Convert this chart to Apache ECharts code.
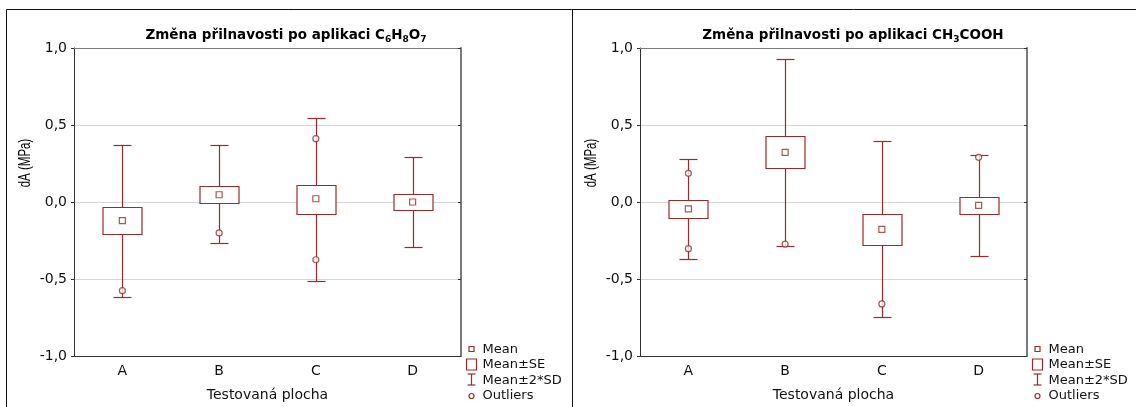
<!DOCTYPE html>
<html>
<head>
<meta charset="utf-8">
<script src="https://cdn.jsdelivr.net/npm/echarts@6/dist/echarts.min.js"></script>
<style>
  html, body { margin: 0; padding: 0; background: #fff; }
  #chart { width: 1136px; height: 407px; }
</style>
</head>
<body>
<div id="chart"></div>
<script>
// Tested surfaces
const categories = ['A', 'B', 'C', 'D'];
const yTicks = [-1, -0.5, 0, 0.5, 1];

// Change in adhesion after citric acid (C6H8O7), MPa
const citMean   = [-0.121, 0.047, 0.021, 0.000];
const citSeLow  = [-0.210, -0.005, -0.078, -0.055];
const citSeHigh = [-0.032, 0.106, 0.112, 0.052];
const citSdLow  = [-0.617, -0.266, -0.511, -0.295];
const citSdHigh = [0.368, 0.368, 0.547, 0.290];
const citOutliers = [['A', -0.576], ['B', -0.201], ['C', 0.411], ['C', -0.375]];

// Change in adhesion after acetic acid (CH3COOH), MPa
const aceMean   = [-0.044, 0.322, -0.178, -0.022];
const aceSeLow  = [-0.104, 0.218, -0.277, -0.080];
const aceSeHigh = [0.010, 0.426, -0.078, 0.034];
const aceSdLow  = [-0.373, -0.284, -0.749, -0.351];
const aceSdHigh = [0.279, 0.931, 0.396, 0.307];
const aceOutliers = [['A', 0.186], ['A', -0.303], ['B', -0.273], ['C', -0.662], ['D', 0.290]];

const RED = '#9a2b2b';
const FONT = 'DejaVu Sans';
const PLOT_W = 387, PLOT_TOP = 48, PLOT_H = 308;
const panels = [
  { left: 74,  title: '{b|Změna přilnavosti po aplikaci C}{s|6}{b|H}{s|8}{b|O}{s|7}', cx: 286 },
  { left: 640, title: '{b|Změna přilnavosti po aplikaci CH}{s|3}{b|COOH}', cx: 853 }
];

const fmt = v => v.toFixed(1).replace('.', ',');

function boxItem(params, api) {
  const i = api.value(0);
  const band = api.size([1, 0])[0];
  const bw = Math.round(band * 0.4), cw = Math.round(band * 0.19);
  const px = Math.round(api.coord([i, 0])[0]) + 0.5;
  const y = k => Math.round(api.coord([i, api.value(k)])[1]) + 0.5;
  const sdLo = y(1), seLo = y(2), seHi = y(3), sdHi = y(4);
  const ls = { stroke: RED, lineWidth: 1.2, fill: null };
  return {
    type: 'group',
    children: [
      { type: 'line', shape: { x1: px, y1: sdLo, x2: px, y2: sdHi }, style: ls },
      { type: 'line', shape: { x1: px - cw / 2, y1: sdLo, x2: px + cw / 2, y2: sdLo }, style: ls },
      { type: 'line', shape: { x1: px - cw / 2, y1: sdHi, x2: px + cw / 2, y2: sdHi }, style: ls },
      { type: 'rect', shape: { x: px - bw / 2, y: seHi, width: bw, height: seLo - seHi },
        style: { stroke: RED, lineWidth: 1.2, fill: '#fff' } }
    ]
  };
}

function boxData(lo, sLo, sHi, hi) {
  return categories.map((c, i) => [i, lo[i], sLo[i], sHi[i], hi[i]]);
}

const grids = [], xAxes = [], yAxes = [], series = [], graphics = [];

panels.forEach((p, k) => {
  grids.push({ left: p.left, top: PLOT_TOP, width: PLOT_W, height: PLOT_H, containLabel: false });
  xAxes.push({
    type: 'category', data: categories, gridIndex: k, position: 'bottom',
    axisLine: { onZero: false, lineStyle: { color: '#333', width: 1 } },
    axisTick: { inside: true, alignWithLabel: true, length: 3, lineStyle: { color: '#333' } },
    axisLabel: { fontSize: 14, fontFamily: FONT, color: '#111', margin: 8 },
    name: 'Testovaná plocha', nameLocation: 'middle', nameGap: 32,
    nameTextStyle: { fontSize: 14, fontFamily: FONT, color: '#111' }
  });
  xAxes.push({
    type: 'category', data: categories, gridIndex: k, position: 'top',
    axisLine: { onZero: false, lineStyle: { color: '#7a7a7a', width: 1 } },
    axisTick: { inside: true, alignWithLabel: true, length: 3, lineStyle: { color: '#333' } },
    axisLabel: { show: false }
  });
  yAxes.push({
    type: 'value', gridIndex: k, position: 'left', min: yTicks[0], max: yTicks[yTicks.length - 1], interval: 0.5,
    axisLine: { show: true, onZero: false, lineStyle: { color: '#333', width: 1 } },
    axisTick: { show: true, inside: false, length: 3, lineStyle: { color: '#333' } },
    axisLabel: { fontSize: 14, fontFamily: FONT, color: '#111', margin: 7, formatter: fmt },
    splitLine: { show: true, lineStyle: { color: '#d6d6d6', width: 1 } }
  });
  yAxes.push({
    type: 'value', gridIndex: k, position: 'right', min: yTicks[0], max: yTicks[yTicks.length - 1], interval: 0.5,
    axisLine: { show: true, onZero: false, lineStyle: { color: '#7a7a7a', width: 2 } },
    axisTick: { show: true, inside: true, length: 3, lineStyle: { color: '#333' } },
    axisLabel: { show: false },
    splitLine: { show: false }
  });

  const d = k === 0
    ? { mean: citMean, sLo: citSeLow, sHi: citSeHigh, lo: citSdLow, hi: citSdHigh, out: citOutliers }
    : { mean: aceMean, sLo: aceSeLow, sHi: aceSeHigh, lo: aceSdLow, hi: aceSdHigh, out: aceOutliers };
  const xi = k * 2, yi = k * 2;

  series.push({
    type: 'custom', xAxisIndex: xi, yAxisIndex: yi, renderItem: boxItem,
    encode: { x: 0, y: [1, 2, 3, 4] },
    data: boxData(d.lo, d.sLo, d.sHi, d.hi), z: 2
  });
  series.push({
    type: 'scatter', xAxisIndex: xi, yAxisIndex: yi, symbol: 'rect', symbolSize: 6,
    itemStyle: { color: '#fff', borderColor: RED, borderWidth: 1.2 },
    data: categories.map((c, i) => [c, d.mean[i]]), z: 3
  });
  series.push({
    type: 'scatter', xAxisIndex: xi, yAxisIndex: yi, symbol: 'circle', symbolSize: 6,
    itemStyle: { color: '#fff', borderColor: RED, borderWidth: 1.2 },
    data: d.out, z: 4
  });

  // panel title with chemical subscripts
  graphics.push({
    type: 'text', x: p.cx, y: 36,
    style: {
      text: p.title, align: 'center', verticalAlign: 'middle',
      rich: {
        b: { fontFamily: FONT, fontWeight: 'bold', fontSize: 13.5, lineHeight: 16, verticalAlign: 'top', fill: '#000' },
        s: { fontFamily: FONT, fontWeight: 'bold', fontSize: 9, lineHeight: 9, verticalAlign: 'bottom', fill: '#000' }
      }
    }
  });

  // y-axis name
  graphics.push({
    type: 'text', x: p.left - 49, y: 163, rotation: Math.PI / 2, scaleY: 1.45,
    style: { text: 'dA (MPa)', fontFamily: 'Liberation Sans', fontSize: 11.5, fill: '#000', align: 'center', verticalAlign: 'middle' }
  });

  // legend block to the right of the plot
  const lx = p.left + PLOT_W + 10.5;
  const tx = p.left + PLOT_W + 21.5;
  const ls = { stroke: RED, lineWidth: 1.2, fill: '#fff' };
  graphics.push(
    { type: 'rect', shape: { x: lx - 2.5, y: 346.5, width: 5, height: 5 }, style: ls },
    { type: 'rect', shape: { x: lx - 5, y: 359, width: 10, height: 11 }, style: ls },
    { type: 'line', shape: { x1: lx, y1: 374, x2: lx, y2: 385 }, style: ls },
    { type: 'line', shape: { x1: lx - 4, y1: 374, x2: lx + 4, y2: 374 }, style: ls },
    { type: 'line', shape: { x1: lx - 4, y1: 385, x2: lx + 4, y2: 385 }, style: ls },
    { type: 'circle', shape: { cx: lx, cy: 396, r: 2.5 }, style: ls }
  );
  ['Mean', 'Mean±SE', 'Mean±2*SD', 'Outliers'].forEach((t, j) => {
    graphics.push({
      type: 'text', x: tx, y: [349.5, 364.5, 380.5, 396][j],
      style: { text: t, fontFamily: FONT, fontSize: 13, fill: '#111', align: 'left', verticalAlign: 'middle' }
    });
  });
});

// outer frame of both panels
graphics.push(
  { type: 'polyline', shape: { points: [[6.5, 407], [6.5, 9.5], [1136, 9.5]] }, style: { stroke: '#111', lineWidth: 1, fill: null } },
  { type: 'line', shape: { x1: 572.5, y1: 9.5, x2: 572.5, y2: 407 }, style: { stroke: '#111', lineWidth: 1 } }
);

const chart = echarts.init(document.getElementById('chart'), null, { renderer: 'canvas' });
chart.setOption({
  animation: false,
  backgroundColor: '#fff',
  grid: grids,
  xAxis: xAxes,
  yAxis: yAxes,
  series: series,
  graphic: graphics
});
</script>
</body>
</html>
